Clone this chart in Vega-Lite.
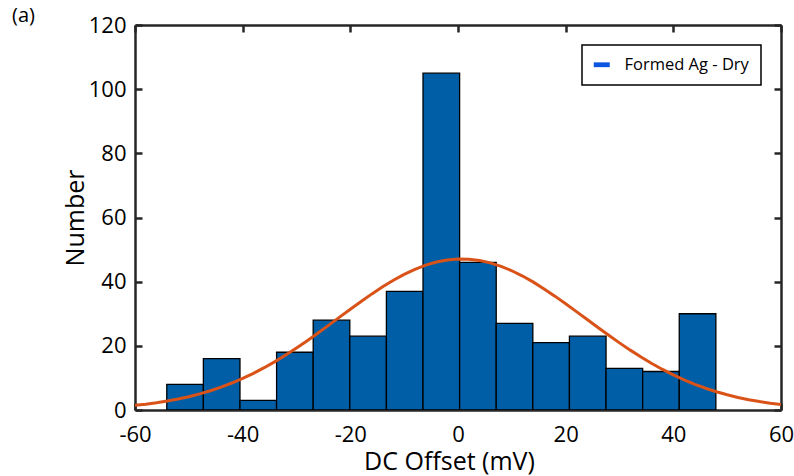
{
  "$schema": "https://vega.github.io/schema/vega-lite/v6.json",
  "width": 646,
  "height": 385,
  "autosize": {"type": "none"},
  "padding": {"left": 135, "top": 25, "right": 13, "bottom": 66},
  "background": "white",
  "title": {"text": "(a)", "anchor": "start", "frame": "group", "dx": -123, "offset": 0, "dy": 28, "baseline": "alphabetic", "font": "Open Sans", "fontSize": 20, "fontWeight": "normal", "color": "#000000"},
  "config": {
    "view": {"stroke": null},
    "font": "Open Sans",
    "axis": {
      "domain": true, "domainColor": "#262626", "domainWidth": 2.5, "ticks": true, "tickColor": "#262626", "tickWidth": 2.5, "tickSize": -7,
      "labelFont": "Open Sans", "labelFontSize": 22, "labelColor": "#000000", "labelFlush": false, "labelOverlap": false,
      "titleFont": "Open Sans", "titleFontSize": 25, "titleFontWeight": "normal", "titleColor": "#000000",
      "grid": false
    },
    "legend": {
      "orient": "top-right", "offset": 20, "padding": 11.5, "strokeColor": "#000000", "strokeWidth": 1.5, "fillColor": "#ffffff",
      "labelFont": "Open Sans", "labelFontSize": 16.5, "labelColor": "#000000", "labelOffset": 14.5,
      "symbolType": "M-1,-0.3H1V0.3H-1Z", "symbolSize": 256, "symbolStrokeWidth": 0, "cornerRadius": 0
    }
  },
  "datasets": {
    "bins": [
      {"bin_start": -54.1, "bin_end": -47.3, "count": 8},
      {"bin_start": -47.3, "bin_end": -40.5, "count": 16},
      {"bin_start": -40.5, "bin_end": -33.7, "count": 3},
      {"bin_start": -33.7, "bin_end": -26.9, "count": 18},
      {"bin_start": -26.9, "bin_end": -20.1, "count": 28},
      {"bin_start": -20.1, "bin_end": -13.3, "count": 23},
      {"bin_start": -13.3, "bin_end": -6.5, "count": 37},
      {"bin_start": -6.5, "bin_end": 0.3, "count": 105},
      {"bin_start": 0.3, "bin_end": 7.1, "count": 46},
      {"bin_start": 7.1, "bin_end": 13.9, "count": 27},
      {"bin_start": 13.9, "bin_end": 20.7, "count": 21},
      {"bin_start": 20.7, "bin_end": 27.5, "count": 23},
      {"bin_start": 27.5, "bin_end": 34.3, "count": 13},
      {"bin_start": 34.3, "bin_end": 41.1, "count": 12},
      {"bin_start": 41.1, "bin_end": 47.9, "count": 30}
    ],
    "fit": [
      {"x": -60, "y": 1.45}, {"x": -58, "y": 1.81}, {"x": -56, "y": 2.26}, {"x": -54, "y": 2.79},
      {"x": -52, "y": 3.41}, {"x": -50, "y": 4.15}, {"x": -48, "y": 5.01}, {"x": -46, "y": 6.0},
      {"x": -44, "y": 7.13}, {"x": -42, "y": 8.41}, {"x": -40, "y": 9.84}, {"x": -38, "y": 11.43},
      {"x": -36, "y": 13.19}, {"x": -34, "y": 15.09}, {"x": -32, "y": 17.14}, {"x": -30, "y": 19.33},
      {"x": -28, "y": 21.62}, {"x": -26, "y": 24.01}, {"x": -24, "y": 26.46}, {"x": -22, "y": 28.94},
      {"x": -20, "y": 31.42}, {"x": -18, "y": 33.84}, {"x": -16, "y": 36.19}, {"x": -14, "y": 38.4},
      {"x": -12, "y": 40.44}, {"x": -10, "y": 42.27}, {"x": -8, "y": 43.85}, {"x": -6, "y": 45.14},
      {"x": -4, "y": 46.13}, {"x": -2, "y": 46.78}, {"x": 0, "y": 47.08}, {"x": 2, "y": 47.02},
      {"x": 4, "y": 46.62}, {"x": 6, "y": 45.87}, {"x": 8, "y": 44.79}, {"x": 10, "y": 43.4},
      {"x": 12, "y": 41.75}, {"x": 14, "y": 39.85}, {"x": 16, "y": 37.75}, {"x": 18, "y": 35.49},
      {"x": 20, "y": 33.12}, {"x": 22, "y": 30.67}, {"x": 24, "y": 28.2}, {"x": 26, "y": 25.72},
      {"x": 28, "y": 23.29}, {"x": 30, "y": 20.92}, {"x": 32, "y": 18.66}, {"x": 34, "y": 16.51},
      {"x": 36, "y": 14.5}, {"x": 38, "y": 12.64}, {"x": 40, "y": 10.94}, {"x": 42, "y": 9.39},
      {"x": 44, "y": 8.01}, {"x": 46, "y": 6.77}, {"x": 48, "y": 5.68}, {"x": 50, "y": 4.74},
      {"x": 52, "y": 3.91}, {"x": 54, "y": 3.21}, {"x": 56, "y": 2.62}, {"x": 58, "y": 2.12},
      {"x": 60, "y": 1.7}
    ],
    "legendrows": []
  },
  "layer": [
    {
      "data": {"name": "bins"},
      "mark": {"type": "bar", "fill": "#005ea6", "stroke": "#000000", "strokeWidth": 1.3, "clip": true},
      "encoding": {
        "x": {"field": "bin_start", "type": "quantitative", "scale": {"domain": [-60, 60], "nice": false, "zero": false},
              "axis": {"orient": "bottom", "values": [-60, -40, -20, 0, 20, 40, 60], "labelExpr": "replace(datum.label, '\u2212', '-')", "labelPadding": 21, "title": "DC Offset (mV)", "titleBaseline": "alphabetic", "titleY": 59, "titleX": 314}},
        "x2": {"field": "bin_end"},
        "y": {"field": "count", "type": "quantitative", "stack": null, "scale": {"domain": [0, 120], "nice": false},
              "axis": {"orient": "left", "values": [0, 20, 40, 60, 80, 100, 120], "labelPadding": 16, "title": "Number", "titleBaseline": "alphabetic", "titleX": -52, "titleY": 192.5}},
        "y2": {"datum": 0}
      }
    },
    {
      "data": {"name": "fit"},
      "mark": {"type": "line", "color": "#d95319", "strokeWidth": 3, "clip": true},
      "encoding": {
        "x": {"field": "x", "type": "quantitative",
              "axis": {"orient": "top", "values": [-60, -40, -20, 0, 20, 40, 60], "labels": false, "title": null}},
        "y": {"field": "y", "type": "quantitative",
              "axis": {"orient": "right", "values": [0, 20, 40, 60, 80, 100, 120], "labels": false, "title": null}}
      }
    },
    {
      "data": {"name": "legendrows"},
      "mark": {"type": "bar"},
      "encoding": {
        "color": {"datum": "Formed Ag - Dry", "type": "nominal", "scale": {"domain": ["Formed Ag - Dry"], "range": ["#0b55e0"]}, "legend": {"title": null}}
      }
    }
  ],
  "resolve": {"axis": {"x": "independent", "y": "independent"}}
}
